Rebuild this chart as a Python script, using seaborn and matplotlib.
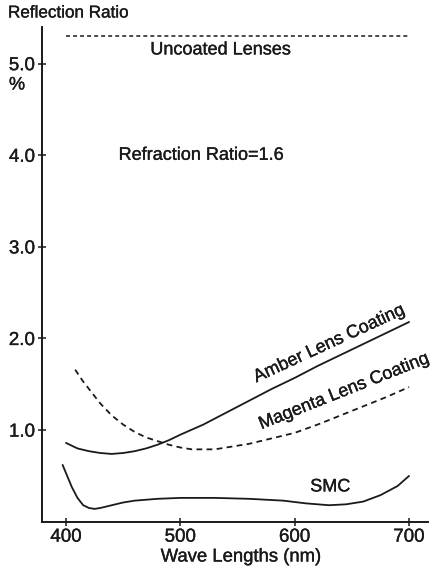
import matplotlib
matplotlib.use("Agg")
import matplotlib.pyplot as plt
import matplotlib.patheffects as pe
import seaborn as sns
import pandas as pd

# ---- data ----
amber_wl = [400, 410, 420, 430, 440, 450, 460, 470, 480, 490, 500, 520, 540, 560, 580, 600, 620, 640, 660, 680, 700]
amber_val = [0.86, 0.80, 0.77, 0.75, 0.74, 0.75, 0.77, 0.80, 0.84, 0.89, 0.95, 1.06, 1.19, 1.32, 1.45, 1.57, 1.70, 1.82, 1.94, 2.06, 2.18]

magenta_wl = [408, 415, 420, 430, 440, 450, 460, 470, 480, 490, 500, 510, 520, 530, 540, 550, 560, 580, 600, 620, 640, 660, 680, 700]
magenta_val = [1.66, 1.53, 1.45, 1.29, 1.16, 1.06, 0.98, 0.92, 0.88, 0.84, 0.81, 0.79, 0.79, 0.79, 0.81, 0.83, 0.85, 0.91, 0.97, 1.06, 1.16, 1.26, 1.36, 1.47]

smc_wl = [397, 400, 405, 410, 415, 420, 425, 430, 440, 450, 460, 480, 500, 530, 560, 590, 610, 630, 645, 660, 675, 690, 700]
smc_val = [0.62, 0.53, 0.38, 0.26, 0.18, 0.15, 0.14, 0.15, 0.18, 0.21, 0.23, 0.25, 0.26, 0.26, 0.25, 0.23, 0.20, 0.18, 0.19, 0.22, 0.29, 0.39, 0.50]

uncoated_wl = [400, 700]
uncoated_val = [5.3, 5.3]

x_ticks = [400, 500, 600, 700]
y_ticks = [1.0, 2.0, 3.0, 4.0, 5.0]
y_ticklabels = ["1.0", "2.0", "3.0", "4.0", "5.0"]

sns.set_style("ticks")
plt.rcParams['font.family'] = ['Liberation Sans', 'DejaVu Sans']

fig = plt.figure(figsize=(4.35, 5.69), dpi=100)
ax = fig.add_axes([0.0966, 0.0831, 0.984 - 0.0966, 0.9525 - 0.0831])

ink = "#1a1a1a"
lw = 1.3
fx = [pe.withStroke(linewidth=0.25, foreground=ink)]
fs = 13

df_amber = pd.DataFrame({"wl": amber_wl, "r": amber_val})
df_mag = pd.DataFrame({"wl": magenta_wl, "r": magenta_val})
df_smc = pd.DataFrame({"wl": smc_wl, "r": smc_val})
df_unc = pd.DataFrame({"wl": uncoated_wl, "r": uncoated_val})

sns.lineplot(data=df_amber, x="wl", y="r", ax=ax, color=ink, lw=lw, sort=False)
sns.lineplot(data=df_mag, x="wl", y="r", ax=ax, color=ink, lw=lw, sort=False,
             linestyle=(0, (3.2, 2.4)))
sns.lineplot(data=df_smc, x="wl", y="r", ax=ax, color=ink, lw=lw, sort=False)
sns.lineplot(data=df_unc, x="wl", y="r", ax=ax, color=ink, lw=1.1, sort=False,
             linestyle=(0, (2.6, 2.0)))

ax.set_xlim(379, 716.6)
ax.set_ylim(0, 5.4)
ax.set_xticks(x_ticks)
ax.set_yticks(y_ticks)
ax.set_yticklabels(y_ticklabels)
sns.despine(ax=ax)
for s in ["left", "bottom"]:
    ax.spines[s].set_linewidth(1.4)
    ax.spines[s].set_color(ink)
ax.tick_params(direction="inout", length=6, width=1.1, colors=ink, labelsize=13.5, pad=2)
for lab in ax.get_xticklabels() + ax.get_yticklabels():
    lab.set_path_effects(fx)
ax.set_xlabel("")
ax.set_ylabel("")

fig.text(241 / 435, 1 - 557 / 569, "Wave Lengths (nm)", fontsize=13.3, color=ink,
         ha="center", va="center", path_effects=fx)
fig.text(8 / 435, 1 - 13 / 569, "Reflection Ratio", fontsize=12.3, color=ink,
         ha="left", va="center", path_effects=fx)
fig.text(17 / 435, 1 - 85 / 569, "%", fontsize=13, color=ink, ha="center", va="center",
         path_effects=fx)

ax.text(535, 5.15, "Uncoated Lenses", fontsize=fs, color=ink, ha="center", va="center", path_effects=fx)
ax.text(518, 4.0, "Refraction Ratio=1.6", fontsize=fs, color=ink, ha="center", va="center", path_effects=fx)
ax.text(630, 1.94, "Amber Lens Coating", fontsize=fs, color=ink, ha="center", va="center",
        rotation=24.8, rotation_mode="anchor", path_effects=fx)
ax.text(643, 1.42, "Magenta Lens Coating", fontsize=fs, color=ink, ha="center", va="center",
        rotation=21.7, rotation_mode="anchor", path_effects=fx)
ax.text(631, 0.38, "SMC", fontsize=fs, color=ink, ha="center", va="center", path_effects=fx)

fig.savefig("out.png", dpi=100, facecolor="white")
